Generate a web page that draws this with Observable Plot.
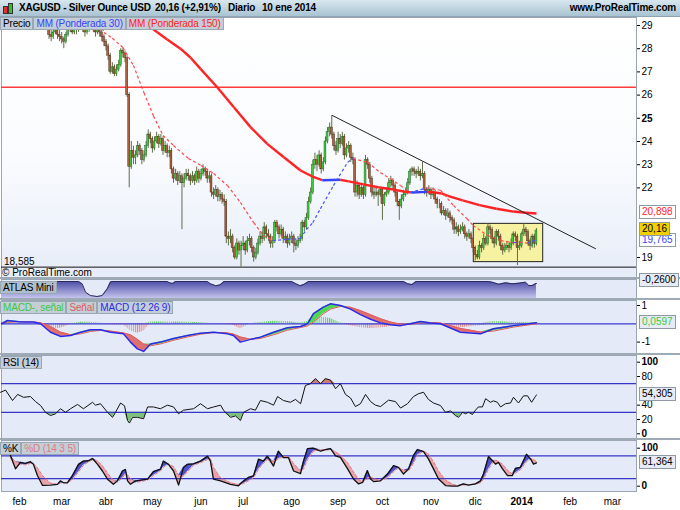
<!DOCTYPE html>
<html><head><meta charset="utf-8">
<script src="https://cdn.jsdelivr.net/npm/d3@7"></script>
<script src="https://cdn.jsdelivr.net/npm/@observablehq/plot@0.6"></script>
<style>
body{margin:0;background:#fff;}
#root{position:relative;width:680px;height:510px;overflow:hidden;background:#9eaab6;font-family:"Liberation Sans",Arial,sans-serif;font-size:10px;}
.row{position:absolute;display:flex;left:0;}
.lg{height:11px;line-height:11px;padding:0 2px;background:#c3ced8;border:1px solid #9aa8b4;font-size:10px;white-space:nowrap;letter-spacing:-0.15px;}
.tag{position:absolute;left:639px;height:12px;line-height:12px;padding:0 2px;background:#fff;border:1px solid #8d9aa6;font-size:10px;white-space:nowrap;}
#hdr{position:absolute;left:0;top:0;width:680px;height:17px;background:linear-gradient(#d8e7ef,#a9c3d2);border-bottom:1px solid #8fa3b2;box-sizing:border-box;}
.ht{position:absolute;top:2px;font-weight:bold;font-size:10px;letter-spacing:-0.2px;white-space:nowrap;}
</style></head><body><div id="root"></div>
<script>
// ---- data: trading-day index (0 = 1 feb 2013, weekdays) ----
const firstIdx = 13;
const firstOpen = 29.3;
const closes = [29.1,28.6,28.5,28.7,28.8,28.6,28.5,
28.4,28.3,28.6,28.8,28.9,28.7,28.9,28.8,28.9,29.0,
28.8,28.7,28.9,28.9,29.0,28.8,28.7,28.9,28.7,28.5,
28.3,28.1,27.7,27.0,27.2,26.9,27.1,27.3,27.9,27.8,
27.6,26.0,22.9,23.6,23.3,23.4,23.8,23.6,23.2,23.4,
23.8,24.3,24.1,23.7,24.0,24.2,23.9,24.1,23.6,23.8,
23.5,23.6,22.8,22.4,22.6,22.3,22.5,22.2,22.4,22.6,
22.5,22.3,22.5,22.3,22.7,22.4,22.6,22.8,22.7,22.4,
22.5,21.8,21.7,21.9,21.6,21.7,21.5,21.4,19.9,19.8,
19.9,19.4,19.0,19.6,19.3,19.5,19.6,19.3,19.7,19.8,
19.4,19.0,19.2,19.6,19.9,19.8,20.3,20.0,19.9,19.6,
19.7,20.5,20.3,20.0,20.2,19.8,19.9,19.6,19.8,19.9,
19.6,19.5,19.7,19.8,20.5,20.3,20.7,21.4,21.8,23.0,
23.2,23.0,23.4,22.8,23.1,24.0,24.4,24.6,24.3,23.8,
23.6,24.1,23.9,24.2,23.4,23.7,23.8,23.3,23.2,21.8,
22.1,21.7,22.0,21.7,23.2,23.0,22.4,21.8,21.7,21.8,
21.7,21.9,21.3,21.7,21.8,22.2,22.3,22.1,21.8,21.4,
21.2,21.5,21.7,21.8,22.2,22.7,22.8,22.7,22.6,22.7,
22.5,22.6,21.9,21.8,21.9,21.7,21.8,21.5,21.3,21.3,
20.9,21.0,20.8,20.9,20.7,20.6,20.2,20.3,20.1,20.2,
20.3,20.0,19.9,20.0,19.8,19.4,19.1,19.0,19.5,19.4,
19.8,19.6,20.3,20.2,19.8,19.6,20.1,19.9,19.5,19.3,
19.4,19.5,19.4,19.6,20.0,19.9,19.4,19.5,20.0,20.2,
20.1,19.7,19.5,19.9,19.59,20.16];
const highs = [29.5,29.2,28.8,28.9,29.0,28.9,28.8,
28.7,28.5,28.7,28.9,29.1,29.0,29.0,29.1,29.1,29.2,
29.1,28.9,29.0,29.1,29.2,29.1,28.9,29.0,29.0,28.8,
28.6,28.4,28.2,27.8,27.4,27.3,27.3,27.5,28.0,28.0,
27.9,27.7,26.1,24.0,23.8,23.6,24.0,23.9,23.7,23.6,
24.0,24.5,24.4,24.2,24.2,24.4,24.3,24.3,24.2,24.0,
23.9,23.8,23.7,22.9,22.8,22.7,22.7,22.6,22.6,22.8,
22.8,22.6,22.7,22.6,22.9,22.8,22.8,23.0,22.9,22.8,
22.7,22.6,22.0,22.1,22.0,21.9,21.8,21.7,21.5,20.1,
20.2,20.0,19.5,19.8,19.7,19.7,19.9,19.7,19.9,20.0,
19.9,19.5,19.4,19.8,20.1,20.1,20.5,20.4,20.2,20.0,
19.9,20.6,20.6,20.4,20.4,20.3,20.1,20.0,20.0,20.1,
20.0,19.8,19.9,20.0,20.6,20.6,20.9,21.6,22.0,23.2,
23.5,23.4,23.6,23.5,23.3,24.2,24.6,24.8,25.12,24.4,
24.0,24.4,24.3,24.4,24.3,23.9,24.0,23.9,23.5,23.3,
22.3,22.2,22.2,22.1,23.4,23.3,23.1,22.5,22.0,22.0,
21.9,22.0,22.0,21.8,22.0,22.4,22.5,22.4,22.2,21.9,
21.5,21.7,21.9,22.0,22.4,22.8,22.9,22.9,22.8,22.9,
22.8,23.1,22.7,22.0,22.1,22.0,22.0,21.9,21.6,21.5,
21.4,21.2,21.1,21.1,21.0,20.8,20.7,20.5,20.4,20.4,
20.5,20.4,20.1,20.2,20.1,19.9,19.5,19.3,19.7,19.6,
20.0,19.9,20.45,20.4,20.3,19.9,20.2,20.2,20.0,19.6,
19.6,19.7,19.6,19.8,20.1,20.1,20.0,19.7,20.1,20.45,
20.3,20.2,19.8,20.0,20.0,20.25];
const lows = [28.9,28.4,28.3,28.4,28.6,28.4,28.3,
28.2,28.0,28.2,28.5,28.7,28.6,28.6,28.6,28.7,28.8,
28.7,28.5,28.6,28.7,28.8,28.7,28.5,28.6,28.5,28.3,
28.1,27.9,27.5,26.9,26.9,26.8,26.8,27.0,27.2,27.6,
27.4,25.9,22.0,22.8,23.0,23.0,23.3,23.4,23.0,23.1,
23.3,23.7,23.9,23.5,23.6,23.9,23.7,23.8,23.4,23.5,
23.3,23.3,22.6,22.2,22.3,22.1,22.2,20.2,22.0,22.3,
22.3,22.1,22.2,22.1,22.2,22.2,22.3,22.5,22.5,22.2,
22.2,21.6,21.5,21.6,21.4,21.4,21.3,21.2,19.6,19.5,
19.6,19.2,18.9,18.9,19.1,18.585,19.3,19.1,19.2,19.5,
19.2,18.8,18.9,19.1,19.5,19.6,19.7,19.8,19.7,19.4,
19.4,19.6,20.1,19.8,19.9,19.6,19.6,19.4,19.5,19.6,
19.2,19.3,19.4,19.6,19.7,20.1,20.2,20.6,21.3,21.7,
22.8,22.7,22.9,22.6,22.7,23.0,23.9,24.2,24.1,23.6,
23.4,23.5,23.7,23.8,23.2,23.3,23.5,23.1,23.0,21.6,
21.6,21.5,21.6,21.5,21.6,22.8,22.2,21.6,21.5,21.6,
21.2,21.6,20.6,21.2,21.6,21.7,22.0,21.9,21.6,21.2,
20.6,21.1,21.4,21.6,21.7,22.1,22.5,22.5,22.4,22.5,
22.3,22.4,21.7,21.6,21.7,21.5,21.6,21.3,21.1,21.1,
20.8,20.8,20.6,20.7,20.5,20.4,20.0,20.0,19.9,20.0,
20.1,19.8,19.7,19.8,19.6,19.2,18.85,18.9,18.9,19.2,
19.3,19.5,19.5,20.0,19.6,19.4,19.5,19.7,19.3,19.1,
19.2,19.3,19.2,19.3,19.5,19.7,18.65,19.3,19.4,19.9,
19.9,19.5,19.3,19.4,19.4,19.5];

const wma30Idx = [38,40,44,49,54,59,63.5,68,73,80,86,92,98.6,104.7,111,115.6,120,127,133,136,139,142.6,148.8,155.5,158,165,171,175.8,180.6,185,193,199.5,205.7,212,215,221.8,228,231,234,237,240.6,243,245];
const wma30Val = [29.35,28.7,28.45,28.05,27.28,26.1,25.1,24.26,23.83,23.27,22.97,22.62,22.1,21.37,20.5,19.95,19.73,19.78,19.82,20.2,20.5,21.1,22.1,23.1,23.27,23.1,22.66,22.4,22.1,21.8,22.0,21.9,21.24,20.68,20.38,19.95,19.73,19.68,19.64,19.66,19.62,19.7,19.765];
const wma150Idx = [58,65.3,70,76.3,81,85.8,93.7,101.6,109.5,117.4,125.3,133.2,139.5,143.5,152,156,163,170,177,183,186,193,197,200,203,210,218,226,234,240,245];
const wma150Val = [29.2,28.71,28.4,28.0,27.62,27.13,26.34,25.48,24.62,23.9,23.32,22.75,22.46,22.33,22.35,22.28,22.15,22.03,21.93,21.83,21.8,21.83,21.8,21.76,21.66,21.46,21.26,21.1,20.98,20.93,20.898];

const resistance = 26.34;
const lowestLow = 18.585;
const trendIdx = [148.3, 273];
const trendVal = [25.12, 19.38];
const boxIdx = [215.3, 248.2];
const boxVal = [18.8, 20.45];

const atlasIdx = [-8.5,28,29.7,31.3,33.6,36.8,39.2,41.6,43.1,44,70,71,72.5,74,89,90.5,93,95,97,129,131,133,135,137,182,184,186,188,222,224,227.2,230.3,233.5,236.6,239.8,241.4,243,244.5,245];
const atlasVal = [0,0,-0.3,-1.39,-1.82,-1.95,-1.82,-0.95,-0.08,0,0,-0.15,-0.25,0,0,-0.3,-0.55,-0.45,0,0,-0.3,-0.55,-0.35,0,0,-0.3,-0.4,0,0,-0.09,-0.36,-0.17,-0.3,-0.22,-0.09,-0.52,-0.52,-0.3,-0.26];

const macdIdx = [-8.5,-5.7,0.5,6.6,10,14.7,19.4,24.2,28.9,33.6,38.4,43.1,49.3,52.6,55.9,58.8,62.1,66.8,73,79.6,85.8,92,98.6,101.4,104.7,109.5,114.2,120.4,127,133.2,136.5,139.3,144,147.4,152.1,156.9,161.6,166.4,171.1,175.8,180.6,185.3,190,194.8,199.5,209,218.5,224.6,234.1,245];
const macdVal = [0.0,0.18,0.1,0.1,0.0,-0.46,-0.69,-0.64,-0.46,-0.33,-0.33,-0.46,-0.55,-1.0,-1.37,-1.51,-1.1,-1.0,-0.8,-0.64,-0.51,-0.46,-0.55,-0.64,-1.0,-0.85,-0.73,-0.46,-0.22,-0.15,0.0,0.55,0.91,1.09,1.0,0.8,0.5,0.25,0.05,-0.05,-0.1,0.0,0.12,0.05,0.0,-0.46,-0.55,-0.27,-0.1,0.06];
const signalVal = [0.05,0.08,0.12,0.1,0.06,-0.15,-0.45,-0.6,-0.55,-0.42,-0.36,-0.4,-0.5,-0.6,-0.85,-1.1,-1.2,-1.1,-0.9,-0.72,-0.57,-0.48,-0.5,-0.56,-0.72,-0.85,-0.8,-0.6,-0.35,-0.2,-0.12,0.1,0.55,0.8,0.95,0.9,0.72,0.5,0.28,0.1,-0.02,-0.03,0.05,0.07,0.04,-0.25,-0.45,-0.4,-0.18,0.0];

const rsiIdx = [-9,-6.6,-3.3,-0.9,1.9,5.2,7.6,10,12.3,14.7,17.1,19.4,21.8,24.2,27.5,30.3,34.6,36,38.4,41.7,44.1,45.5,47.9,49.8,51.2,52.1,53.6,55.9,58.8,60.7,63.5,66.8,70.1,73,75.4,77.7,82.5,85.8,89.1,92,95.3,96.7,100,102.4,104.7,106.2,109.5,111.8,114.2,117.5,120.4,122.3,125.1,128.4,130.8,133.2,135.5,137.9,140.3,142.7,145,147.4,149.8,152.1,154.5,156.9,159.2,161.6,164,166.4,168.7,171.1,174.9,178.2,180.6,183.9,186.7,189.1,191.5,193.8,196.2,199.5,201.9,204.3,206.6,208.1,210,211.4,212.8,214.7,216.1,217.5,219.4,220.9,223.2,224.6,226.5,228,230.3,232.7,234.1,236.5,238.9,240.8,242.7,244.5,245];
const rsiVal = [58,61,46.5,55,51,52,45,39.5,30,25.5,28,35,30,35,41,35,44,40,42,30,23,30,43,39,18.5,15,23,23,21,37.5,37.5,35,40,37.5,28,33,35,42,35,37.5,40,33,23,25,18.5,30,35,33,46.5,44,40,52,46.5,44,48,42,67.5,70,77,70,77,75,63,70,55,50,38,42,55,45,40,38,47,45,36,42,52,56,58,48,43,39.5,30,32,25.5,23,30,28,30,27,33,37.5,37.5,49,44,46,44,37.5,42,43,51,43,53,53,44,52,54.305];

const stochIdx = [-4.3,-1.9,0.5,2.8,5.2,6.6,8.5,10.9,14.7,18,19.4,20.9,22.7,25.1,28,30.3,32.7,34.6,37,39.3,41.7,44.5,46.4,48.8,50.2,51.2,52.6,55,57.3,60.7,63.5,66.8,68.2,70.6,73,75.4,77.7,79.6,82.5,85.8,89.1,90.5,91.9,95.3,100,103.8,106.2,108.5,110.9,113.3,115.6,117.5,120.4,122.7,125.1,127.5,129.9,133.2,134.6,136.5,139.3,142.7,145,147.4,149.8,152.1,155.5,158.3,160.7,162.6,164.9,166.4,167.8,171.1,174.4,177.3,179.6,182,184.4,186.7,188.6,191.5,193.8,196.2,198.6,201.9,205.2,207.6,210.4,212.8,216.1,218.5,219.9,222.3,224.2,225.6,227,228.9,231.3,233.6,235.1,237.4,240.3,242.2,243.6,245];
const kVal = [80.8,45.8,63,60,64.5,57.5,28,2,3,5,14,9,9,28,57.5,66,67,73,57.5,40,18.5,5,14,40,44,14,5,14,15.8,18.5,38.6,44.7,66,57.5,40,3,49,57.5,59,66,79,66,18.5,14,5,1,14,23,27,71,66,79,53,92,75,75,40,33,66,99,100,92,96,99,80,76,45.6,19,6,10,41,19,12,14,32,54,49.6,32,45.6,80.8,96.5,91,72,45.6,19,1.6,0,0,6,3,6,14,32,78,67,58,62.7,45.6,28,28,47,49.6,84,72,58,61.364];
const dVal = [75,65,58,56,60,60,48,28,8,5,8,10,10,17,38,55,64,69,66,54,35,15,11,22,33,30,20,10,12,16,28,40,50,58,52,28,26,38,55,62,70,72,50,22,9,4,7,14,22,45,60,70,65,72,78,78,60,40,45,70,92,96,95,96,90,82,62,38,18,11,20,25,20,15,22,38,48,42,40,60,82,92,85,65,40,16,5,1,3,4,5,9,18,45,62,68,65,58,42,32,35,43,65,72,70,65];

const monthIdx = [0,20,41,63,86,106,129,151,172,195,216,238,261,281];
const monthLabels = ["feb","mar","abr","may","jun","jul","ago","sep","oct","nov","dic","2014","feb","mar"];

// ---- build ----
const root = document.getElementById("root");
const XD = [-8.53, 292.42];
const FONT = "'Liberation Sans', Arial, sans-serif";
const PANEL_BG = "#e4eaf7";

const candles = closes.map((c, k) => ({i: firstIdx + k, o: k ? closes[k - 1] : firstOpen, c, h: highs[k], l: lows[k]}));
const pairs = (ix, v) => ix.map((x, k) => ({i: x, v: v[k]}));
function segs(ix, v) {
  const up = [], dn = [];
  for (let k = 1; k < ix.length; k++) {
    const s = {x1: ix[k - 1], y1: v[k - 1], x2: ix[k], y2: v[k]};
    (v[k] >= v[k - 1] ? up : dn).push(s);
  }
  return {up, dn};
}
function addDefs(svg, html) {
  const defs = document.createElementNS("http://www.w3.org/2000/svg", "defs");
  defs.innerHTML = html;
  svg.insertBefore(defs, svg.firstChild);
}
function boldTexts(svg, list) {
  svg.querySelectorAll("text").forEach(t => { if (list.includes(t.textContent)) t.setAttribute("font-weight", "bold"); });
}
function place(el, top) {
  el.style.position = "absolute"; el.style.left = "0px"; el.style.top = top + "px";
  root.appendChild(el);
  return el;
}
function div(cls, text, css, parent) {
  const d = document.createElement("div");
  if (cls) d.className = cls;
  d.textContent = text;
  Object.assign(d.style, css || {});
  (parent || root).appendChild(d);
  return d;
}
function legendRow(top, items) {
  const r = div("row", "", {top: top + "px"});
  items.forEach(([t, c, bg]) => div("lg", t, Object.assign({color: c || "#000"}, bg ? {background: bg} : {}), r));
  return r;
}
const fmt = (v, n) => v.toFixed(n).replace(".", ",");
const baseStyle = {fontFamily: FONT, fontSize: "10px", color: "#000", background: "white"};
const common = {width: 680, marginLeft: 1, marginRight: 44, marginTop: 0, marginBottom: 0, style: baseStyle};

// Price panel
const P_TOP = 17, P_H = 260;
const w30 = segs(wma30Idx, wma30Val);
const w150 = segs(wma150Idx, wma150Val);
const priceSvg = Plot.plot({
  ...common, height: P_H,
  x: {domain: XD, axis: null},
  y: {domain: [29 - (P_H - 8) / 23.2, 29 + 8 / 23.2], axis: "right", ticks: [19,22,23,24,25,26,27,28,29], tickSize: 3, tickPadding: 2, label: null, tickFormat: d => String(d)},
  marks: [
    Plot.frame({fill: "url(#pgrad)", stroke: "#9aa6b2"}),
    Plot.ruleY([resistance], {stroke: "#ff3b3b", strokeWidth: 1.5}),
    Plot.ruleY([lowestLow], {stroke: "#111", strokeWidth: 1}),
    Plot.rect([{x1: boxIdx[0], x2: boxIdx[1], y1: boxVal[0], y2: boxVal[1]}], {x1: "x1", x2: "x2", y1: "y1", y2: "y2", fill: "#f6f2a2", stroke: "#222", strokeWidth: 1}),
    Plot.ruleX(candles, {x: "i", y1: "l", y2: "h", stroke: "#5e6e45", strokeWidth: 1, clip: true}),
    Plot.rect(candles, {x1: d => d.i - 0.45, x2: d => d.i + 0.45, y1: "o", y2: "c", fill: d => d.c >= d.o ? "#3fcb3f" : "#b0603c", stroke: d => d.c >= d.o ? "#2d6a2d" : "#5a3020", strokeWidth: 0.5, clip: true}),
    Plot.link(w150.dn, {x1: "x1", y1: "y1", x2: "x2", y2: "y2", stroke: "#ff2323", strokeWidth: 2.4, clip: true}),
    Plot.link(w150.up, {x1: "x1", y1: "y1", x2: "x2", y2: "y2", stroke: "#3344ff", strokeWidth: 2.4, clip: true}),
    Plot.link(w30.dn, {x1: "x1", y1: "y1", x2: "x2", y2: "y2", stroke: "#ff4a4a", strokeWidth: 1.2, strokeDasharray: "3,2.5", clip: true}),
    Plot.link(w30.up, {x1: "x1", y1: "y1", x2: "x2", y2: "y2", stroke: "#4455ff", strokeWidth: 1.2, strokeDasharray: "3,2.5", clip: true}),
    Plot.line(pairs(trendIdx, trendVal), {x: "i", y: "v", stroke: "#222", strokeWidth: 1})
  ]
});
addDefs(priceSvg, '<linearGradient id="pgrad" x1="0" y1="0" x2="0" y2="1"><stop offset="0" stop-color="#ffffff"/><stop offset="0.55" stop-color="#f9fbfe"/><stop offset="1" stop-color="#e6ecf8"/></linearGradient>');
boldTexts(priceSvg, ["25"]);
place(priceSvg, P_TOP);

// ATLAS panel
const A_TOP = 279, A_H = 19;
const atlasSvg = Plot.plot({
  ...common, height: A_H,
  x: {domain: XD, axis: null},
  y: {domain: [0.26 - A_H / 7.7, 0.26], axis: null},
  marks: [
    Plot.frame({fill: PANEL_BG, stroke: "#9aa6b2"}),
    Plot.areaY(pairs(atlasIdx, atlasVal), {x: "i", y1: 0.26 - A_H / 7.7, y2: "v", fill: "url(#agrad)", clip: true}),
    Plot.line(pairs(atlasIdx, atlasVal), {x: "i", y: "v", stroke: "#2a2a5a", strokeWidth: 1, clip: true})
  ]
});
addDefs(atlasSvg, '<linearGradient id="agrad" x1="0" y1="0" x2="0" y2="1"><stop offset="0" stop-color="#4c4ca6"/><stop offset="1" stop-color="#c4c4ee"/></linearGradient>');
place(atlasSvg, A_TOP);

// MACD panel
const M_TOP = 300, M_H = 53;
const macd = macdIdx.map((x, k) => ({i: x, m: macdVal[k], s: signalVal[k], h: macdVal[k] - signalVal[k]}));
const macdSvg = Plot.plot({
  ...common, height: M_H,
  x: {domain: XD, axis: null},
  y: {domain: [-(M_H - 23.3) / 18.3, 23.3 / 18.3], axis: "right", ticks: [-1, 1], tickSize: 3, tickPadding: 2, label: null, tickFormat: d => String(d)},
  marks: [
    Plot.frame({fill: PANEL_BG, stroke: "#9aa6b2"}),
    Plot.areaY(macd, {x: "i", y1: 0, y2: d => Math.max(d.h, 0), fill: "url(#gstr)"}),
    Plot.areaY(macd, {x: "i", y1: 0, y2: d => Math.min(d.h, 0), fill: "url(#rstr)"}),
    Plot.ruleY([0], {stroke: "#3a3ad0", strokeWidth: 1.2}),
    Plot.areaY(macd, {x: "i", y1: "s", y2: d => Math.max(d.m, d.s), fill: "#4fd84f"}),
    Plot.areaY(macd, {x: "i", y1: "s", y2: d => Math.min(d.m, d.s), fill: "#e07070"}),
    Plot.line(macd, {x: "i", y: "s", stroke: "#e05a5a", strokeWidth: 1}),
    Plot.line(macd, {x: "i", y: "m", stroke: "#2a2ae6", strokeWidth: 1.5})
  ]
});
addDefs(macdSvg, '<pattern id="gstr" width="2.11" height="4" patternUnits="userSpaceOnUse"><rect width="1" height="4" fill="#58cc58"/></pattern><pattern id="rstr" width="2.11" height="4" patternUnits="userSpaceOnUse"><rect width="1" height="4" fill="#e88a8a"/></pattern>');
place(macdSvg, M_TOP);

// RSI panel
const R_TOP = 355, R_H = 83;
const rsi = pairs(rsiIdx, rsiVal);
const rsiSvg = Plot.plot({
  ...common, height: R_H,
  x: {domain: XD, axis: null},
  y: {domain: [-(R_H - 78.3) / 0.716, 78.3 / 0.716], axis: "right", ticks: [0, 20, 40, 80, 100], tickSize: 3, tickPadding: 2, label: null, tickFormat: d => String(d)},
  marks: [
    Plot.frame({fill: PANEL_BG, stroke: "#9aa6b2"}),
    Plot.areaY(rsi, {x: "i", y1: 70, y2: d => Math.max(d.v, 70), fill: "#c97c7c"}),
    Plot.areaY(rsi, {x: "i", y1: 30, y2: d => Math.min(d.v, 30), fill: "#7cc27c"}),
    Plot.ruleY([30, 70], {stroke: "#3636c8", strokeWidth: 1.2}),
    Plot.line(rsi, {x: "i", y: "v", stroke: "#111", strokeWidth: 1})
  ]
});
boldTexts(rsiSvg, ["100", "0"]);
place(rsiSvg, R_TOP);

// Stochastic panel + x axis
const S_TOP = 440, S_H = 51, S_MB = 19;
const labelOf = new Map(monthIdx.map((m, k) => [m, monthLabels[k]]));
const st = stochIdx.map((x, k) => ({i: x, k: kVal[k], d: dVal[k]}));
const stochSvg = Plot.plot({
  ...common, height: S_H + S_MB, marginBottom: S_MB,
  x: {domain: XD, axis: "bottom", ticks: monthIdx, tickFormat: d => labelOf.get(d), tickSize: 0, tickPadding: 6, label: null},
  y: {domain: [-(S_H - 45.7) / 0.38, 45.7 / 0.38], axis: "right", ticks: [0, 100], tickSize: 3, tickPadding: 2, label: null, tickFormat: d => String(d)},
  marks: [
    Plot.frame({fill: PANEL_BG, stroke: "#9aa6b2"}),
    Plot.areaY(st, {x: "i", y1: "d", y2: d => Math.max(d.k, d.d), fill: "#5050c8"}),
    Plot.areaY(st, {x: "i", y1: "d", y2: d => Math.min(d.k, d.d), fill: "#eaa2aa"}),
    Plot.ruleY([20, 80], {stroke: "#3636c8", strokeWidth: 1.2}),
    Plot.line(st, {x: "i", y: "d", stroke: "#e07a80", strokeWidth: 1, strokeDasharray: "3,2"}),
    Plot.line(st, {x: "i", y: "k", stroke: "#111", strokeWidth: 1.3})
  ]
});
boldTexts(stochSvg, ["100", "0", "2014"]);
place(stochSvg, S_TOP);

// ---- header ----
const hdr = div("", "", {});
hdr.id = "hdr";
const icon = (l, t, h, c) => div("", "", {position: "absolute", left: l + "px", top: t + "px", width: "3px", height: h + "px", background: c, border: "1px solid #333"});
icon(3, 6, 6, "#e03030"); icon(8, 3, 9, "#30c030");
div("ht", "XAGUSD - Silver Ounce USD", {left: "19px"});
div("ht", fmt(closes[closes.length - 1], 2) + " (+2,91%)", {left: "155px"});
div("ht", "Diario", {left: "228px"});
div("ht", "10 ene 2014", {left: "262px"});
div("ht", "www.ProRealTime.com", {right: "4px"});

// ---- legends ----
legendRow(17, [["Precio"], ["MM (Ponderada 30)", "#3344ff"], ["MM (Ponderada 150)", "#ff2323"]]);
legendRow(281, [["ATLAS Mini", "#000", "#aebfcc"]]);
legendRow(301, [["MACD-, señal", "#3cc83c"], ["Señal", "#e05a5a"], ["MACD (12 26 9)", "#2a2ae6"]]);
legendRow(356, [["RSI (14)"]]);
legendRow(442, [["%K"], ["%D (14 3 5)", "#e07a80"]]);

// price panel texts
const py = priceSvg.scale("y");
div("", fmt(lowestLow, 3), {position: "absolute", left: "4px", top: (P_TOP + py.apply(lowestLow) - 11) + "px"});
div("", "© ProRealTime.com", {position: "absolute", left: "2px", top: (P_TOP + py.apply(lowestLow) + 0) + "px"});

// ---- value tags ----
function tag(text, top, css) { const d = div("tag", text, css); d.style.top = (top - 7) + "px"; return d; }
tag(fmt(wma150Val[wma150Val.length - 1], 3), P_TOP + py.apply(wma150Val[wma150Val.length - 1]) - 1, {color: "#ff2323"});
tag(fmt(wma30Val[wma30Val.length - 1], 3), P_TOP + py.apply(wma30Val[wma30Val.length - 1]) + 1, {color: "#3344ff"});
tag(fmt(closes[closes.length - 1], 2), P_TOP + py.apply(closes[closes.length - 1]) - 1, {background: "#f2d000", color: "#000"});
tag(fmt(atlasVal[atlasVal.length - 1], 4), A_TOP + atlasSvg.scale("y").apply(0.1), {background: "#e6ebf6"});
tag("0,0597", M_TOP + macdSvg.scale("y").apply(0.0597), {color: "#3cc83c", background: "#e6ebf6"});
tag(fmt(rsiVal[rsiVal.length - 1], 3), R_TOP + rsiSvg.scale("y").apply(rsiVal[rsiVal.length - 1]), {background: "#e6ebf6"});
tag(fmt(kVal[kVal.length - 1], 3), S_TOP + stochSvg.scale("y").apply(kVal[kVal.length - 1]), {background: "#e6ebf6"});
</script></body></html>
